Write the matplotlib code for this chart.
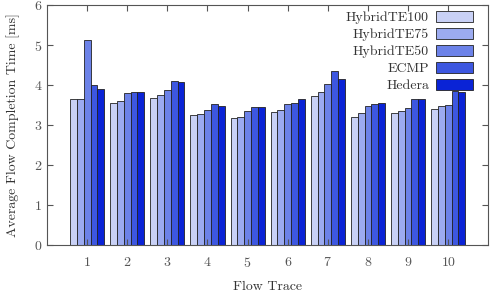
import numpy as np
import matplotlib
matplotlib.use("Agg")
import matplotlib.pyplot as plt

plt.rcParams.update({
    "font.family": "serif",
    "font.serif": ["cmr10", "DejaVu Serif"],
    "axes.formatter.use_mathtext": True,
    "text.color": "#333333",
    "axes.labelcolor": "#333333",
    "xtick.color": "#555555",
    "ytick.color": "#555555",
    "axes.edgecolor": "#555555",
})

traces = np.arange(1, 11)
series = ["HybridTE100", "HybridTE75", "HybridTE50", "ECMP", "Hedera"]
colors = ["#c9d1f6", "#9cabf0", "#6c82e8", "#3d57e0", "#0a23d6"]

hybrid100 = [3.64, 3.56, 3.68, 3.24, 3.17, 3.33, 3.73, 3.20, 3.31, 3.41]
hybrid75 = [3.65, 3.61, 3.74, 3.27, 3.20, 3.38, 3.82, 3.29, 3.34, 3.48]
hybrid50 = [5.13, 3.80, 3.88, 3.37, 3.34, 3.52, 4.02, 3.47, 3.42, 3.49]
ecmp = [3.99, 3.82, 4.09, 3.53, 3.46, 3.55, 4.36, 3.52, 3.65, 3.85]
hedera = [3.90, 3.83, 4.07, 3.47, 3.46, 3.66, 4.16, 3.56, 3.64, 3.82]
values = [hybrid100, hybrid75, hybrid50, ecmp, hedera]

fig = plt.figure(figsize=(4.92, 2.96), dpi=100)
ax = fig.add_axes([0.0955, 0.172, 0.897, 0.811])

w = 0.17
for i, (name, vals) in enumerate(zip(series, values)):
    ax.bar(traces + (i - 2) * w, vals, w, color=colors[i], edgecolor="#222222",
           linewidth=0.6, label=name)

ax.set_xlim(0, 11)
ax.set_ylim(0, 6)
ax.set_xticks(traces)
ax.set_yticks(range(0, 7))
ax.tick_params(direction="in", top=True, right=True, length=4, labelsize=10)
ax.tick_params(axis="x", pad=8)
ax.set_xlabel("Flow Trace", fontsize=10, labelpad=8)
ax.set_ylabel("Average Flow Completion Time [ms]", fontsize=10, labelpad=10)

ax.legend(loc="upper right", bbox_to_anchor=(0.979, 1.0), frameon=False,
          markerfirst=False, fontsize=10, handlelength=2.7, handleheight=0.9,
          labelspacing=0.25, borderaxespad=0, handletextpad=0.5)

fig.savefig("out.png", dpi=100)
